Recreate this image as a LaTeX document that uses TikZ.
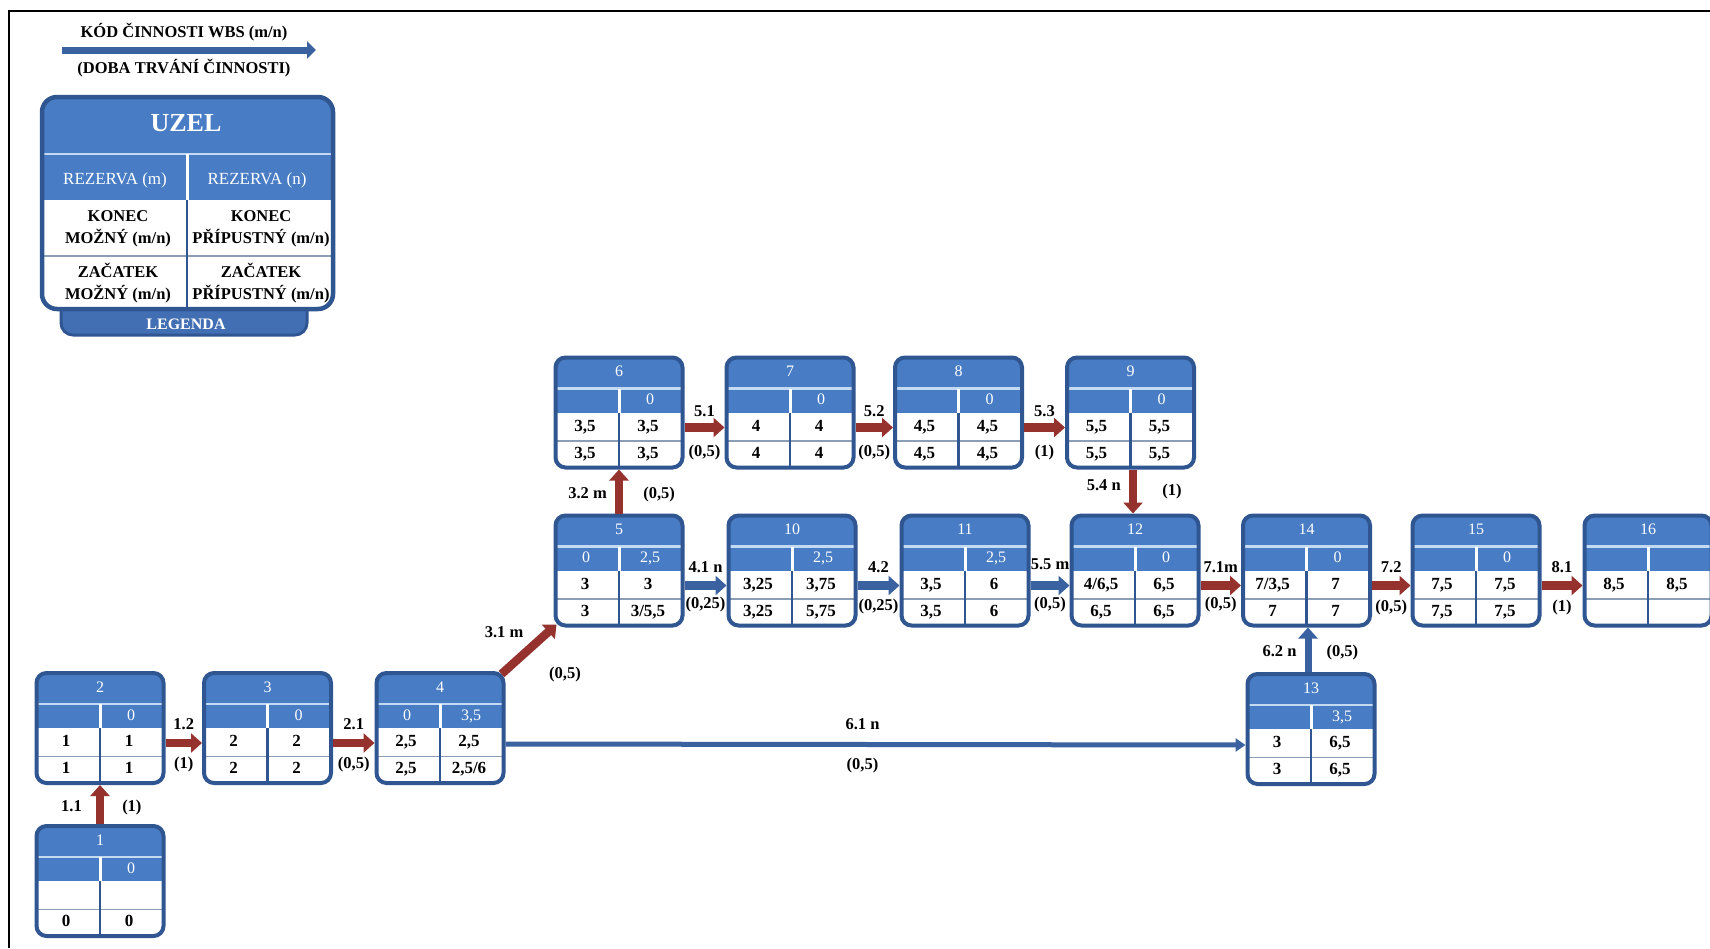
\documentclass[tikz,border=0pt]{standalone}
\usepackage{fontspec}
\setmainfont{Liberation Serif}
\usetikzlibrary{arrows.meta,calc}
\definecolor{hdr}{RGB}{72,124,196}
\definecolor{bord}{RGB}{48,86,146}
\definecolor{hline}{RGB}{196,218,242}
\definecolor{rowline}{RGB}{140,158,182}
\definecolor{redA}{RGB}{150,50,46}
\definecolor{blueA}{RGB}{58,98,160}
\definecolor{tabc}{RGB}{66,110,180}
\tikzset{
  pbox/.style={draw=bord, line width=4pt, rounded corners=10pt, fill=white,
    minimum width=127pt, minimum height=110pt, inner sep=0pt,
    path picture={
      \fill[hdr, sharp corners] (path picture bounding box.north west) rectangle (path picture bounding box.east);
      \draw[hline, line width=2.5pt, sharp corners] ([yshift=24pt]path picture bounding box.west) -- ([yshift=24pt]path picture bounding box.east);
      \draw[white, line width=3pt, sharp corners] ([yshift=24pt]path picture bounding box.center) -- (path picture bounding box.center);
      \draw[rowline, line width=1.5pt, sharp corners] ([yshift=-28.5pt]path picture bounding box.west) -- ([yshift=-28.5pt]path picture bounding box.east);
      \draw[bord, line width=2.5pt, sharp corners] (path picture bounding box.center) -- (path picture bounding box.south);
    }},
  ttl/.style={font=\fontsize{16}{18}\selectfont, text=white, inner sep=0pt, text height=11pt, text depth=3pt},
  cell/.style={font=\fontsize{17}{19}\selectfont\bfseries, inner sep=0pt, text height=12pt, text depth=3pt},
  lab/.style={font=\fontsize{16.5}{18}\selectfont\bfseries, inner sep=0pt, text height=11pt, text depth=4pt},
  legtxt/.style={font=\fontsize{16.5}{22}\selectfont\bfseries, inner sep=0pt, align=center},
  redarr/.style={draw=redA, line width=8.5pt, -{Triangle[width=19pt,length=11pt]}},
  bluearr/.style={draw=blueA, line width=8.5pt, -{Triangle[width=19pt,length=11pt]}},
  thinblue/.style={draw=blueA, line width=5pt, -{Triangle[width=13pt,length=10pt]}},
  legarr/.style={draw=blueA, line width=7pt, -{Triangle[width=17pt,length=9pt]}},
}
\def\pnode(#1)(#2)#3#4#5#6#7#8#9{%
  \node[pbox] (#1) at (#2) {};
  \node[ttl] (#1t) at ($(#1)+(0,-40)$) {#3};
  \node[ttl] (#1rl) at ($(#1)+(-33,-12)$) {#4};
  \node[ttl] (#1rr) at ($(#1)+(31,-12)$) {#5};
  \node[cell] (#1a) at ($(#1)+(-34,14)$) {#6};
  \node[cell] (#1b) at ($(#1)+(29,14)$) {#7};
  \node[cell] (#1c) at ($(#1)+(-34,41)$) {#8};
  \node[cell] (#1d) at ($(#1)+(29,41)$) {#9};
}
\begin{document}
\begin{tikzpicture}[x=1pt,y=-1pt]
\useasboundingbox (0,0) rectangle (1710,948);
\fill[white] (0,0) rectangle (1710,948);
% frame
\draw[line width=2pt] (9,948) -- (9,11) -- (1712,11);

% legend arrow
\coordinate (lgA) at (62,50);
\coordinate (lgB) at (316,50);
\draw[legarr] (lgA) -- (lgB);
\node[legtxt] (kod) at (184,32) {KÓD ČINNOSTI WBS (m/n)};
\node[legtxt] (doba) at (184,68) {(DOBA TRVÁNÍ ČINNOSTI)};

% legend box
\draw[fill=tabc, draw=bord, line width=3pt, rounded corners=12pt] (61,270) rectangle (307,335);
\node[font=\fontsize{16}{18}\selectfont\bfseries, text=white, inner sep=0pt] (legenda) at (186,324) {LEGENDA};
\begin{scope}
\path[clip, rounded corners=15pt] (42,97) rectangle (333,309);
\fill[white] (40,95) rectangle (335,311);
\fill[hdr] (40,95) rectangle (335,200);
\draw[hline, line width=2.5pt] (40,154) -- (335,154);
\draw[white, line width=3pt] (187,154) -- (187,200);
\draw[rowline, line width=1.5pt] (40,256) -- (335,256);
\draw[bord, line width=2.5pt] (187,200) -- (187,311);
\end{scope}
\draw[bord, line width=4.5pt, rounded corners=15pt] (42,97) rectangle (333,309);
\node[font=\fontsize{26}{28}\selectfont\bfseries, text=white, inner sep=0pt] (uzel) at (186,123) {UZEL};
\node[font=\fontsize{17}{19}\selectfont, text=white, inner sep=0pt] (rzm) at (115,180) {REZERVA (m)};
\node[font=\fontsize{17}{19}\selectfont, text=white, inner sep=0pt] (rzn) at (257,180) {REZERVA (n)};
\node[legtxt] (kmz) at (118,229) {KONEC\\MOŽNÝ (m/n)};
\node[legtxt] (kpr) at (261,229) {KONEC\\PŘÍPUSTNÝ (m/n)};
\node[legtxt] (zmz) at (118,283) {ZAČATEK\\MOŽNÝ (m/n)};
\node[legtxt] (zpr) at (261,283) {ZAČATEK\\PŘÍPUSTNÝ (m/n)};

% nodes
\pnode(n1)(100,881){1}{}{0}{}{}{0}{0}
\pnode(n2)(100,728){2}{}{0}{1}{1}{1}{1}
\pnode(n3)(267.5,728){3}{}{0}{2}{2}{2}{2}
\pnode(n4)(440,728){4}{0}{3,5}{2,5}{2,5}{2,5}{2,5/6}
\pnode(n5)(619,570.5){5}{0}{2,5}{3}{3}{3}{3/5,5}
\pnode(n6)(619,412.5){6}{}{0}{3,5}{3,5}{3,5}{3,5}
\pnode(n7)(790,412.5){7}{}{0}{4}{4}{4}{4}
\pnode(n8)(958.5,412.5){8}{}{0}{4,5}{4,5}{4,5}{4,5}
\pnode(n9)(1130.5,412.5){9}{}{0}{5,5}{5,5}{5,5}{5,5}
\pnode(n10)(792,570.5){10}{}{2,5}{3,25}{3,75}{3,25}{5,75}
\pnode(n11)(965,570.5){11}{}{2,5}{3,5}{6}{3,5}{6}
\pnode(n12)(1135,570.5){12}{}{0}{4/6,5}{6,5}{6,5}{6,5}
\pnode(n14)(1306.5,570.5){14}{}{0}{7/3,5}{7}{7}{7}
\pnode(n15)(1476,570.5){15}{}{0}{7,5}{7,5}{7,5}{7,5}
\pnode(n16)(1648,570.5){16}{}{}{8,5}{8,5}{}{}
\pnode(n13)(1311,729){13}{}{3,5}{3}{6,5}{3}{6,5}

% horizontal arrows
\draw[redarr] ([yshift=-15pt]n2.east) -- ([yshift=-15pt]n3.west)
  node[lab,midway,yshift=17pt] (l12a) {1.2} node[lab,midway,yshift=-22pt] (l12b) {(1)};
\draw[redarr] ([yshift=-15pt]n3.east) -- ([yshift=-15pt]n4.west)
  node[lab,midway,yshift=17pt] (l21a) {2.1} node[lab,midway,yshift=-22pt] (l21b) {(0,5)};
\draw[thinblue] ([yshift=-16pt]n4.east) -- ([yshift=-16pt]n13.west)
  node[lab,midway,xshift=-13pt,yshift=19pt] (l61a) {6.1 n} node[lab,midway,xshift=-13pt,yshift=-21pt] (l61b) {(0,5)};
\draw[redarr] ([yshift=-15pt]n6.east) -- ([yshift=-15pt]n7.west)
  node[lab,midway,yshift=15pt] (l51a) {5.1} node[lab,midway,yshift=-25pt] (l51b) {(0,5)};
\draw[redarr] ([yshift=-15pt]n7.east) -- ([yshift=-15pt]n8.west)
  node[lab,midway,yshift=15pt] (l52a) {5.2} node[lab,midway,yshift=-25pt] (l52b) {(0,5)};
\draw[redarr] ([yshift=-15pt]n8.east) -- ([yshift=-15pt]n9.west)
  node[lab,midway,yshift=15pt] (l53a) {5.3} node[lab,midway,yshift=-25pt] (l53b) {(1)};
\draw[bluearr] ([yshift=-15pt]n5.east) -- ([yshift=-15pt]n10.west)
  node[lab,midway,yshift=17pt] (l41a) {4.1 n} node[lab,midway,yshift=-19pt] (l41b) {(0,25)};
\draw[bluearr] ([yshift=-15pt]n10.east) -- ([yshift=-15pt]n11.west)
  node[lab,midway,yshift=17pt] (l42a) {4.2} node[lab,midway,yshift=-21pt] (l42b) {(0,25)};
\draw[bluearr] ([yshift=-15pt]n11.east) -- ([yshift=-15pt]n12.west)
  node[lab,midway,yshift=20pt] (l55a) {5.5 m} node[lab,midway,yshift=-19pt] (l55b) {(0,5)};
\draw[redarr] ([yshift=-15pt]n12.east) -- ([yshift=-15pt]n14.west)
  node[lab,midway,yshift=17pt] (l71a) {7.1m} node[lab,midway,yshift=-19pt] (l71b) {(0,5)};
\draw[redarr] ([yshift=-15pt]n14.east) -- ([yshift=-15pt]n15.west)
  node[lab,midway,yshift=17pt] (l72a) {7.2} node[lab,midway,yshift=-22pt] (l72b) {(0,5)};
\draw[redarr] ([yshift=-15pt]n15.east) -- ([yshift=-15pt]n16.west)
  node[lab,midway,yshift=17pt] (l81a) {8.1} node[lab,midway,yshift=-22pt] (l81b) {(1)};

% vertical arrows
\draw[redarr] (n1.north) -- (n2.south)
  node[lab,midway,anchor=east,xshift=-14pt,yshift=-3pt] (l11a) {1.1}
  node[lab,midway,anchor=west,xshift=18pt,yshift=-3pt] (l11b) {(1)};
\draw[redarr] (n5.north) -- (n6.south)
  node[lab,midway,anchor=east,xshift=-8pt,yshift=-3pt] (l32a) {3.2 m}
  node[lab,midway,anchor=west,xshift=20pt,yshift=-3pt] (l32b) {(0,5)};
\coordinate (a54) at ($(n9.south)+(2.5,0)$);
\draw[redarr] (a54) -- (a54 |- n12.north)
  node[lab,midway,anchor=east,xshift=-8pt,yshift=5pt] (l54a) {5.4 n}
  node[lab,midway,anchor=west,xshift=25pt,yshift=0pt] (l54b) {(1)};
\coordinate (a62) at ($(n13.north)+(-3,0)$);
\draw[bluearr, line width=7pt] (a62) -- (a62 |- n14.south)
  node[lab,midway,anchor=east,xshift=-8pt,yshift=-3pt] (l62a) {6.2 n}
  node[lab,midway,anchor=west,xshift=15pt,yshift=-3pt] (l62b) {(0,5)};

% diagonal arrow
\draw[redarr] ($(n4.north east)+(-4,3)$) -- ($(n5.south west)+(3,-3)$)
  node[lab,midway,xshift=-25pt,yshift=15pt] (l31a) {3.1 m}
  node[lab,midway,xshift=36pt,yshift=-26pt] (l31b) {(0,5)};
\end{tikzpicture}
\end{document}
